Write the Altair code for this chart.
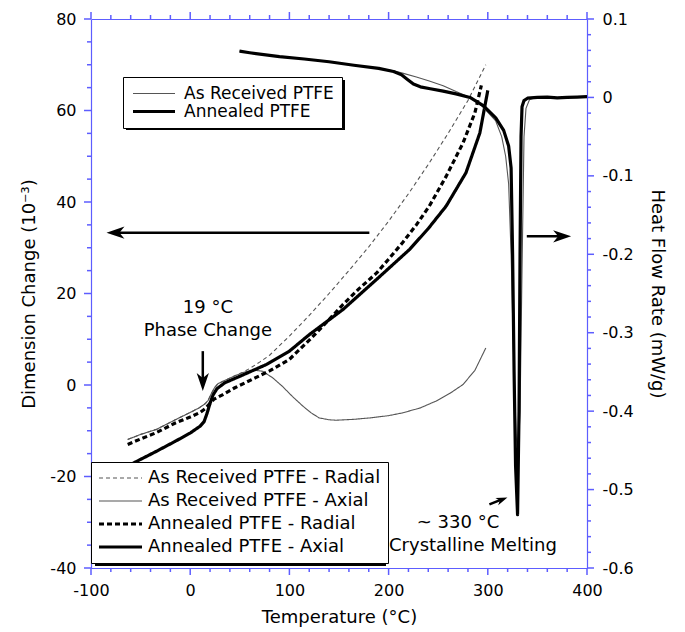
import altair as alt
import pandas as pd

# ---------------- dimension change (10^-3) vs temperature (°C) ----------------
ar_radial_t = [-63, -50, -34, -15, 0, 9, 15, 18, 21, 24.5, 28, 33, 45, 53, 60, 70, 80,
               100, 120, 140, 160, 180, 200, 220, 240, 260, 280, 298]
ar_radial_d = [-11.9, -10.8, -9.7, -7.6, -6.0, -5.0, -4.1, -3.4, -2.0, -0.6, 0.3, 0.8, 2.0,
               2.8, 3.6, 5.0, 6.5, 10.7, 15.2, 20.0, 25.0, 30.2, 35.8, 41.8, 48.2, 55.0, 62.2, 70.0]

ar_axial_t = [-63, -50, -34, -15, 0, 9, 15, 18, 21, 24.5, 28, 33, 45, 53, 60, 66, 73, 83, 93,
              103, 113.5, 122, 130, 140, 147, 165, 181, 200, 214, 232, 248, 262, 275, 287, 298]
ar_axial_d = [-11.9, -10.8, -9.7, -7.6, -6.0, -5.0, -4.1, -3.4, -2.0, -0.6, 0.3, 0.8, 2.0, 2.7,
              3.1, 3.2, 3.0, 1.6, -0.3, -2.5, -4.6, -6.1, -7.2, -7.6, -7.7, -7.5, -7.2, -6.7,
              -6.1, -5.0, -3.5, -1.8, 0.1, 3.2, 8.1]

an_radial_t = [-63, -50, -34, -15, 0, 10, 15, 20, 24, 33, 45, 66, 80, 100, 120, 140, 154, 170,
               188, 200, 214, 228, 241, 258, 275, 287, 293.5]
an_radial_d = [-13.0, -11.8, -10.4, -8.3, -7.0, -6.0, -5.2, -4.0, -3.1, -2.1, -0.6, 1.6, 3.1,
               5.6, 9.8, 14.3, 17.6, 21.0, 24.5, 27.5, 31.1, 35.0, 39.1, 45.6, 52.9, 59.5, 65.5]

an_axial_t = [-63, -54, -35, -15, 0, 10, 14, 17, 20, 23, 27, 35, 50, 77, 100, 120, 154, 188,
              221, 240, 258, 278, 292, 300]
an_axial_d = [-17.8, -16.7, -14.6, -12.3, -10.5, -9.0, -8.0, -6.2, -4.0, -2.2, -0.8, 0.5, 1.9,
              4.5, 7.4, 11.0, 16.5, 23.1, 29.6, 34.2, 39.1, 46.4, 55.1, 64.4]

# ---------------- heat flow rate (mW/g) vs temperature (°C) ----------------
ar_heat_t = [49.7, 60, 90, 115, 140, 165, 190, 205, 214, 228, 241, 255, 268, 282, 295, 308,
             314, 318, 321, 323.5, 326, 328.5, 330.5, 332.5, 334.5, 336.5, 338.5, 342, 348,
             360, 370, 380, 390, 400]
ar_heat_h = [0.059, 0.057, 0.052, 0.049, 0.0455, 0.041, 0.037, 0.034, 0.031, 0.026, 0.021,
             0.015, 0.0075, 0.0, -0.012, -0.030, -0.050, -0.075, -0.11, -0.20, -0.33, -0.43,
             -0.46, -0.40, -0.22, -0.05, -0.014, -0.003, 0.0, 0.0005, -0.0005, 0.0, 0.0005, 0.001]

an_heat_t = [49.7, 60, 90, 115, 140, 165, 190, 205, 213, 219, 225, 232, 242, 255, 268, 282,
             295, 308, 316, 321, 323.5, 325, 326.5, 328, 330, 331.5, 332.5, 333.5, 334.5,
             336.5, 340, 350, 360, 370, 380, 390, 400]
an_heat_h = [0.059, 0.057, 0.052, 0.049, 0.0455, 0.041, 0.037, 0.033, 0.029, 0.023, 0.017,
             0.0135, 0.011, 0.008, 0.0045, 0.0, -0.010, -0.026, -0.042, -0.062, -0.09, -0.20,
             -0.35, -0.47, -0.532, -0.40, -0.20, -0.05, -0.012, -0.004, -0.001, 0.0, 0.0005,
             -0.0005, 0.0, 0.0005, 0.001]

SERIES = ["As Received PTFE - Radial", "As Received PTFE - Axial",
          "Annealed PTFE - Radial", "Annealed PTFE - Axial"]
SAMPLES = ["As Received PTFE", "Annealed PTFE"]

# ---------------- annotations ----------------
note_text = ["19 °C", "Phase Change", "~ 330 °C", "Crystalline Melting"]
note_t = [17.8, 17.8, 270, 285]
note_d = [16.8, 11.9, -30.1, -35.3]

# arrows: tail, shaft end, tip (temperature / dimension units), head direction and size
arrow_tail_t = [12.7, 180.6, 339.3, 301.6]
arrow_tail_d = [7.4, 33.3, 32.5, -26.1]
arrow_end_t = [12.7, -76.0, 376.0, 313.0]
arrow_end_d = [0.5, 33.3, 32.5, -25.1]
arrow_tip_t = [12.7, -84.4, 384.0, 319.8]
arrow_tip_d = [-1.3, 33.3, 32.5, -24.6]
arrow_angle = [90, 180, 0, 339]
arrow_size = [1296, 1296, 1296, 520]

BLUE = "#5d5dff"
FONT = "DejaVu Sans"
W, H = 496, 549
X_DOM, D_DOM, H_DOM = [-100, 400], [-40, 80], [-0.6, 0.1]


def long_table(key, names, ts, vs, vname):
    rows = []
    for name, tl, vl in zip(names, ts, vs):
        for i, (t, v) in enumerate(zip(tl, vl)):
            rows.append({key: name, "t": t, vname: v, "i": i})
    return pd.DataFrame(rows)


dims = long_table("series", SERIES,
                  [ar_radial_t, ar_axial_t, an_radial_t, an_axial_t],
                  [ar_radial_d, ar_axial_d, an_radial_d, an_axial_d], "d")
heat = long_table("sample", SAMPLES, [ar_heat_t, an_heat_t], [ar_heat_h, an_heat_h], "h")
notes = pd.DataFrame({"t": note_t, "d": note_d, "label": note_text})
arrows = pd.DataFrame({"t0": arrow_tail_t, "d0": arrow_tail_d, "t1": arrow_end_t,
                       "d1": arrow_end_d, "tt": arrow_tip_t, "dt": arrow_tip_d,
                       "ang": arrow_angle, "sz": arrow_size})

x_scale = alt.Scale(domain=X_DOM, nice=False, zero=False)
d_scale = alt.Scale(domain=D_DOM, nice=False, zero=False)
h_scale = alt.Scale(domain=H_DOM, nice=False, zero=False)

x_major = [-100, 0, 100, 200, 300, 400]
x_minor = [v for v in range(-100, 401, 20) if v % 100 != 0]
d_major = [-40, -20, 0, 20, 40, 60, 80]
d_minor = [v for v in range(-40, 81, 5) if v % 20 != 0]
h_major = [round(-0.6 + 0.1 * k, 1) for k in range(8)]
h_minor = [round(-0.6 + 0.02 * k, 2) for k in range(36) if k % 5 != 0]


def axis(orient, values, **kw):
    # tick marks are drawn by the tick layers below; the axis keeps their room
    base = dict(orient=orient, values=values, grid=False, ticks=True, tickOpacity=0,
                domainColor=BLUE, domainWidth=1.2, tickSize=7, labelFlush=False,
                labelFont=FONT, labelFontSize=16, labelColor="black",
                labelExpr="toString(datum.value)",
                titleFont=FONT, titleFontSize=18, titleFontWeight="normal", titleColor="black")
    base.update(kw)
    return alt.Axis(**base)


def legend(x, y, size, offset, pad, clip, row_pad, font_size, **kw):
    return alt.Legend(title=None, orient="none", legendX=x, legendY=y, symbolType="stroke",
                      symbolSize=size, labelFont=FONT, labelFontSize=font_size,
                      labelColor="black", labelOffset=offset, labelLimit=400, padding=pad,
                      clipHeight=clip, rowPadding=row_pad, strokeColor="black",
                      fillColor="white", **kw)


def tick_marks(values, scale, channel, pos, length):
    """Outward frame ticks placed through the data scales."""
    src = pd.DataFrame({"v": values})
    if channel == "x":
        return alt.Chart(src).mark_tick(orient="vertical", size=length, thickness=1.5,
                                        color=BLUE, opacity=1).encode(
            x=alt.X("v:Q", scale=scale, axis=None), y=alt.value(pos))
    return alt.Chart(src).mark_tick(orient="horizontal", size=length, thickness=1.5,
                                    color=BLUE, opacity=1).encode(
        y=alt.Y("v:Q", scale=scale, axis=None), x=alt.value(pos))


ticks = [
    tick_marks(x_major, x_scale, "x", H + 3.5, 7),
    tick_marks(x_minor, x_scale, "x", H + 2, 4),
    tick_marks(x_major, x_scale, "x", -3.5, 7),
    tick_marks(x_minor, x_scale, "x", -2, 4),
    tick_marks(d_major, d_scale, "y", -3.5, 7),
    tick_marks(d_minor, d_scale, "y", -2, 4),
    tick_marks(h_major, h_scale, "y", W + 3.5, 7),
    tick_marks(h_minor, h_scale, "y", W + 2, 4),
]

# drop shadows behind the two legend frames
shadow_top = alt.Chart(pd.DataFrame({"k": [0]})).mark_rect(color="black").encode(
    x=alt.value(35), x2=alt.value(254), y=alt.value(61), y2=alt.value(111)
)
shadow_bottom = alt.Chart(pd.DataFrame({"k": [0]})).mark_rect(color="black").encode(
    x=alt.value(4), x2=alt.value(295), y=alt.value(446), y2=alt.value(547)
)

# thin strokes for the as-received series, heavy strokes for the annealed ones
width_expr = "(indexof(datum.series || datum.value || '', 'Annealed') == 0 ? 3.2 : 1.1)"
leg_dims = legend(0, 443, 1849, 5, 7, 18, 5, 18,
                  symbolStrokeWidth=alt.ExprRef(
                      expr="(indexof(datum.value || '', 'Annealed') == 0 ? 3.2 : 1.1)"))
dim_lines = alt.Chart(dims).mark_line(
    strokeJoin="round", strokeWidth=alt.ExprRef(expr=width_expr)
).encode(
    x=alt.X("t:Q", scale=x_scale,
            axis=axis("bottom", x_major, labelPadding=7,
                      title="Temperature (°C)", titlePadding=10)),
    y=alt.Y("d:Q", scale=d_scale,
            axis=axis("left", d_major, labelPadding=8,
                      title="Dimension Change (10⁻³)", titlePadding=11)),
    color=alt.Color("series:N", scale=alt.Scale(domain=SERIES,
                    range=["#555555", "#555555", "black", "black"]), legend=leg_dims),
    strokeDash=alt.StrokeDash("series:N", scale=alt.Scale(domain=SERIES,
                              range=[[4, 3], [1, 0], [5, 3], [1, 0]]), legend=leg_dims),
    order="i:Q",
)

leg_heat = legend(32, 58, 1764, 7, 8, 17, 0, 17)
heat_lines = alt.Chart(heat).mark_line(strokeJoin="round").encode(
    x=alt.X("t:Q", scale=x_scale, axis=None),
    y=alt.Y("h:Q", scale=h_scale,
            axis=axis("right", h_major, labelPadding=8,
                      title="Heat Flow Rate (mW/g)", titlePadding=14)),
    color=alt.Color("sample:N", scale=alt.Scale(domain=SAMPLES, range=["#555555", "black"]),
                    legend=leg_heat),
    strokeWidth=alt.StrokeWidth("sample:N", scale=alt.Scale(domain=SAMPLES, range=[1.1, 3.2]),
                                legend=leg_heat),
    order="i:Q",
)

# invisible layer that carries the plain top frame line
frame = pd.DataFrame({"t": X_DOM, "d": D_DOM})
top_frame = alt.Chart(frame).mark_point(opacity=0).encode(
    x=alt.X("t:Q", scale=x_scale,
            axis=axis("top", x_major, labels=False, ticks=False, title=None)),
    y=alt.Y("d:Q", scale=d_scale, axis=None),
)

shafts = alt.Chart(arrows).mark_rule(color="black", strokeWidth=2.5).encode(
    x=alt.X("t0:Q", scale=x_scale, axis=None), x2="t1:Q",
    y=alt.Y("d0:Q", scale=d_scale, axis=None), y2="d1:Q",
)
heads = alt.Chart(arrows).mark_point(
    shape="M0,0 L-1,-0.34 L-0.72,0 L-1,0.34 Z", filled=True, color="black", opacity=1,
    strokeWidth=0,
).encode(
    x=alt.X("tt:Q", scale=x_scale, axis=None),
    y=alt.Y("dt:Q", scale=d_scale, axis=None),
    angle=alt.Angle("ang:Q", scale=None),
    size=alt.Size("sz:Q", scale=None),
)
labels = alt.Chart(notes).mark_text(font=FONT, fontSize=18, color="black",
                                    align="center", baseline="middle").encode(
    x=alt.X("t:Q", scale=x_scale, axis=None),
    y=alt.Y("d:Q", scale=d_scale, axis=None),
    text="label:N",
)

chart = alt.layer(
    shadow_top, shadow_bottom, dim_lines, heat_lines, top_frame, *ticks, shafts, heads, labels
).resolve_scale(
    y="independent", color="independent", strokeDash="independent", strokeWidth="independent",
    size="independent", angle="independent",
).resolve_axis(
    x="independent", y="independent"
).properties(
    width=W, height=H,
    padding={"left": 91, "top": 19, "right": 98, "bottom": 64},
    autosize=alt.AutoSizeParams(type="none"),
).configure_view(stroke=None)

chart.save("out.html", embed_options={"renderer": "svg", "actions": False})
